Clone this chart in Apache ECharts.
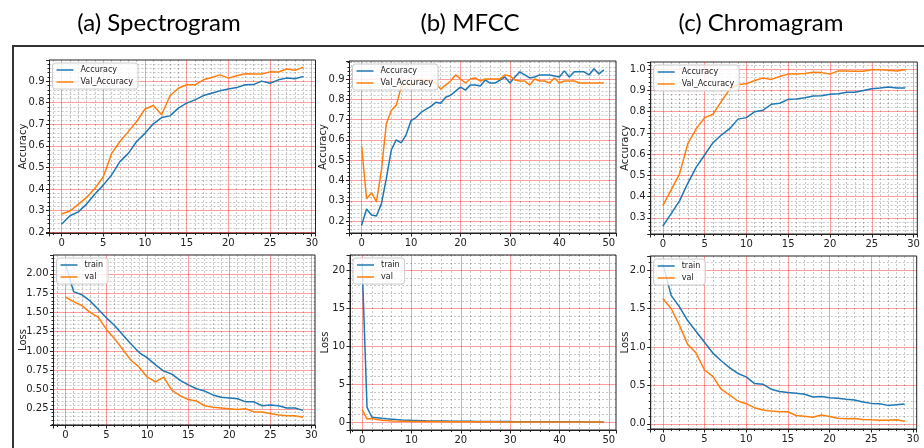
<!DOCTYPE html>
<html>
<head>
<meta charset="utf-8">
<script src="https://cdn.jsdelivr.net/npm/echarts@6/dist/echarts.min.js"></script>
<style>
  html, body { margin: 0; padding: 0; background: #fff; }
  #main { width: 924px; height: 448px; }
</style>
</head>
<body>
<div id="main"></div>
<script>
// (a) Spectrogram
const specAcc = [0.237, 0.276, 0.294, 0.33, 0.377, 0.418, 0.465, 0.527, 0.565, 0.62, 0.658, 0.702, 0.731, 0.739, 0.775, 0.798, 0.813, 0.833, 0.844, 0.855, 0.864, 0.87, 0.883, 0.884, 0.9, 0.89, 0.906, 0.914, 0.911, 0.922];
const specValAcc = [0.284, 0.298, 0.329, 0.361, 0.403, 0.457, 0.565, 0.62, 0.666, 0.713, 0.771, 0.787, 0.744, 0.832, 0.867, 0.883, 0.883, 0.906, 0.917, 0.929, 0.914, 0.925, 0.934, 0.933, 0.933, 0.943, 0.942, 0.956, 0.95, 0.965];
const specLoss = [2.14, 1.77, 1.73, 1.65, 1.54, 1.43, 1.33, 1.21, 1.09, 0.98, 0.91, 0.82, 0.74, 0.70, 0.62, 0.56, 0.51, 0.48, 0.43, 0.40, 0.39, 0.38, 0.34, 0.34, 0.29, 0.30, 0.29, 0.26, 0.26, 0.23];
const specValLoss = [1.70, 1.64, 1.59, 1.50, 1.44, 1.28, 1.16, 1.02, 0.88, 0.79, 0.66, 0.60, 0.66, 0.49, 0.42, 0.37, 0.35, 0.29, 0.27, 0.26, 0.25, 0.24, 0.25, 0.21, 0.21, 0.19, 0.17, 0.16, 0.16, 0.14];

// (b) MFCC
const mfccAcc = [0.18, 0.26, 0.23, 0.225, 0.285, 0.41, 0.55, 0.60, 0.585, 0.625, 0.695, 0.71, 0.735, 0.75, 0.765, 0.785, 0.78, 0.81, 0.82, 0.84, 0.86, 0.845, 0.87, 0.87, 0.865, 0.895, 0.88, 0.88, 0.895, 0.91, 0.88, 0.91, 0.935, 0.92, 0.905, 0.91, 0.92, 0.92, 0.92, 0.915, 0.91, 0.94, 0.91, 0.935, 0.935, 0.935, 0.92, 0.95, 0.925, 0.945];
const mfccValAcc = [0.57, 0.31, 0.34, 0.295, 0.45, 0.68, 0.745, 0.77, 0.86, 0.88, 0.87, 0.89, 0.90, 0.88, 0.895, 0.88, 0.85, 0.87, 0.89, 0.92, 0.90, 0.88, 0.90, 0.905, 0.89, 0.90, 0.90, 0.90, 0.90, 0.92, 0.915, 0.895, 0.89, 0.89, 0.87, 0.90, 0.89, 0.89, 0.88, 0.905, 0.88, 0.89, 0.89, 0.89, 0.88, 0.88, 0.88, 0.88, 0.88, 0.88];
const mfccLoss = [21.0, 1.97, 0.66, 0.6, 0.52, 0.45, 0.4, 0.35, 0.31, 0.28, 0.25, 0.23, 0.21, 0.19, 0.18, 0.17, 0.16, 0.15, 0.14, 0.13, 0.13, 0.12, 0.12, 0.11, 0.11, 0.1, 0.1, 0.1, 0.09, 0.09, 0.09, 0.08, 0.08, 0.08, 0.08, 0.07, 0.07, 0.07, 0.07, 0.07, 0.06, 0.06, 0.06, 0.06, 0.06, 0.06, 0.05, 0.05, 0.05, 0.05];
const mfccValLoss = [1.7, 0.42, 0.5, 0.35, 0.28, 0.22, 0.18, 0.15, 0.13, 0.12, 0.11, 0.1, 0.1, 0.09, 0.09, 0.09, 0.08, 0.08, 0.08, 0.07, 0.07, 0.07, 0.07, 0.06, 0.06, 0.06, 0.06, 0.06, 0.05, 0.05, 0.05, 0.05, 0.05, 0.05, 0.04, 0.04, 0.04, 0.04, 0.04, 0.04, 0.04, 0.04, 0.04, 0.03, 0.03, 0.03, 0.03, 0.03, 0.03, 0.03];

// (c) Chromagram
const chromaAcc = [0.261, 0.32, 0.38, 0.464, 0.539, 0.596, 0.654, 0.69, 0.72, 0.765, 0.772, 0.80, 0.807, 0.835, 0.84, 0.858, 0.86, 0.866, 0.874, 0.875, 0.882, 0.885, 0.892, 0.892, 0.90, 0.908, 0.911, 0.916, 0.911, 0.911];
const chromaValAcc = [0.358, 0.432, 0.507, 0.65, 0.72, 0.772, 0.788, 0.849, 0.905, 0.928, 0.931, 0.947, 0.959, 0.952, 0.966, 0.977, 0.978, 0.98, 0.986, 0.984, 0.977, 0.992, 0.992, 0.99, 0.99, 0.997, 0.997, 0.995, 0.992, 0.997];
const chromaLoss = [2.08, 1.67, 1.52, 1.34, 1.20, 1.06, 0.92, 0.82, 0.73, 0.655, 0.61, 0.524, 0.515, 0.45, 0.42, 0.406, 0.397, 0.384, 0.35, 0.354, 0.34, 0.332, 0.319, 0.31, 0.284, 0.266, 0.262, 0.24, 0.249, 0.258];
const chromaValLoss = [1.63, 1.50, 1.28, 1.03, 0.92, 0.70, 0.616, 0.45, 0.376, 0.297, 0.262, 0.21, 0.179, 0.166, 0.157, 0.157, 0.109, 0.10, 0.087, 0.114, 0.096, 0.074, 0.066, 0.07, 0.057, 0.052, 0.048, 0.048, 0.052, 0.035];

const columnTitles = ['(a) Spectrogram', '(b) MFCC', '(c) Chromagram'];
const titleCenters = [154, 465, 756];

const BLUE = '#1f77b4';
const ORANGE = '#ff7f0e';
const tickFont = 'DejaVu Sans';

// one entry per subplot
const panels = [
  { box: [49.5, 60, 266, 173], x: [-1.45, 30.45, 5], y: [0.196, 0.998, 0.1], dec: 1, name: 'Accuracy', gap: 21.5,
    s: [['Accuracy', specAcc, BLUE], ['Val_Accuracy', specValAcc, ORANGE]] },
  { box: [53.5, 255, 261.5, 170], x: [-1.45, 30.45, 5], y: [0.04, 2.245, 0.25], dec: 2, name: 'Loss', gap: 25,
    s: [['train', specLoss, BLUE], ['val', specValLoss, ORANGE]] },
  { box: [349.5, 61, 266.5, 172], x: [-2.45, 51.45, 10], y: [0.1415, 0.9885, 0.1], dec: 1, name: 'Accuracy', gap: 21,
    s: [['Accuracy', mfccAcc, BLUE], ['Val_Accuracy', mfccValAcc, ORANGE]] },
  { box: [350, 255, 266, 175], x: [-2.45, 51.45, 10], y: [-1.02, 22.05, 5], dec: 0, name: 'Loss', gap: 20,
    s: [['train', mfccLoss, BLUE], ['val', mfccValLoss, ORANGE]] },
  { box: [650.7, 62, 266.6, 172], x: [-1.45, 30.45, 5], y: [0.224, 1.034, 0.1], dec: 1, name: 'Accuracy', gap: 20.5,
    s: [['Accuracy', chromaAcc, BLUE], ['Val_Accuracy', chromaValAcc, ORANGE]] },
  { box: [650.7, 256, 266, 173], x: [-1.45, 30.45, 5], y: [-0.067, 2.182, 0.5], dec: 1, name: 'Loss', gap: 20.5,
    s: [['train', chromaLoss, BLUE], ['val', chromaValLoss, ORANGE]] }
];

const majorLine = { show: true, showMinLine: false, showMaxLine: false, lineStyle: { color: 'rgba(255,0,0,0.38)', width: 1 } };
const minorLine = { show: true, lineStyle: { color: 'rgba(0,0,0,0.28)', width: 0.8, type: [2, 2] } };

function makeAxis(range, dec, i, extra) {
  return Object.assign({
    type: 'value',
    gridIndex: i,
    min: range[0],
    max: range[1],
    minInterval: range[2],
    maxInterval: range[2],
    axisLine: { show: true, onZero: false, lineStyle: { color: '#222', width: 1 } },
    axisTick: { show: true, length: 3.5, lineStyle: { color: '#222' } },
    minorTick: { show: true, splitNumber: 5, length: 2, lineStyle: { color: '#222' } },
    splitLine: majorLine,
    minorSplitLine: minorLine,
    axisLabel: {
      show: true, showMinLabel: false, showMaxLabel: false,
      fontFamily: tickFont, fontSize: 10, color: '#222', margin: 5,
      formatter: v => v.toFixed(dec)
    }
  }, extra || {});
}

const grids = [], xAxes = [], yAxes = [], series = [], legends = [];
panels.forEach((p, i) => {
  grids.push({ left: p.box[0], top: p.box[1], width: p.box[2], height: p.box[3],
    show: true, borderColor: '#222', borderWidth: 1, backgroundColor: 'transparent' });
  xAxes.push(makeAxis(p.x, 0, i));
  yAxes.push(makeAxis(p.y, p.dec, i, {
    name: p.name, nameLocation: 'middle', nameGap: p.gap, nameRotate: 90, nameMoveOverlap: false,
    nameTextStyle: { fontFamily: tickFont, fontSize: 10, color: '#222' }
  }));
  p.s.forEach(([name, vals, color]) => {
    series.push({
      name, type: 'line', xAxisIndex: i, yAxisIndex: i,
      data: vals.map((v, k) => [k, v]),
      symbol: 'none', smooth: false,
      lineStyle: { color, width: 1.5 }, itemStyle: { color },
      z: 3
    });
  });
  legends.push({
    orient: 'vertical', left: p.box[0] + 3, top: p.box[1] + 3,
    data: p.s.map(s => ({ name: s[0], icon: 'rect' })),
    itemWidth: 17, itemHeight: 1.5, itemGap: 4,
    padding: [3, 5, 3, 4],
    backgroundColor: 'rgba(255,255,255,0.8)', borderColor: '#ccc', borderWidth: 1, borderRadius: 3,
    textStyle: { fontFamily: tickFont, fontSize: 8, color: '#222', padding: [0, 0, 0, 2] },
    selectedMode: false, z: 10
  });
});

const titles = columnTitles.map((t, i) => ({
  text: t, left: titleCenters[i], top: 6, textAlign: 'center',
  textStyle: { fontFamily: 'Lato', fontSize: 24, fontWeight: 'normal', color: '#000' }
}));

const chart = echarts.init(document.getElementById('main'), null, { renderer: 'canvas' });
chart.setOption({
  backgroundColor: '#fff',
  animation: false,
  title: titles,
  grid: grids,
  xAxis: xAxes,
  yAxis: yAxes,
  legend: legends,
  series: series,
  graphic: [{
    type: 'rect', z: -1, silent: true,
    shape: { x: 13, y: 46, width: 960, height: 460 },
    style: { fill: 'none', stroke: '#333', lineWidth: 2 }
  }]
});
</script>
</body>
</html>
